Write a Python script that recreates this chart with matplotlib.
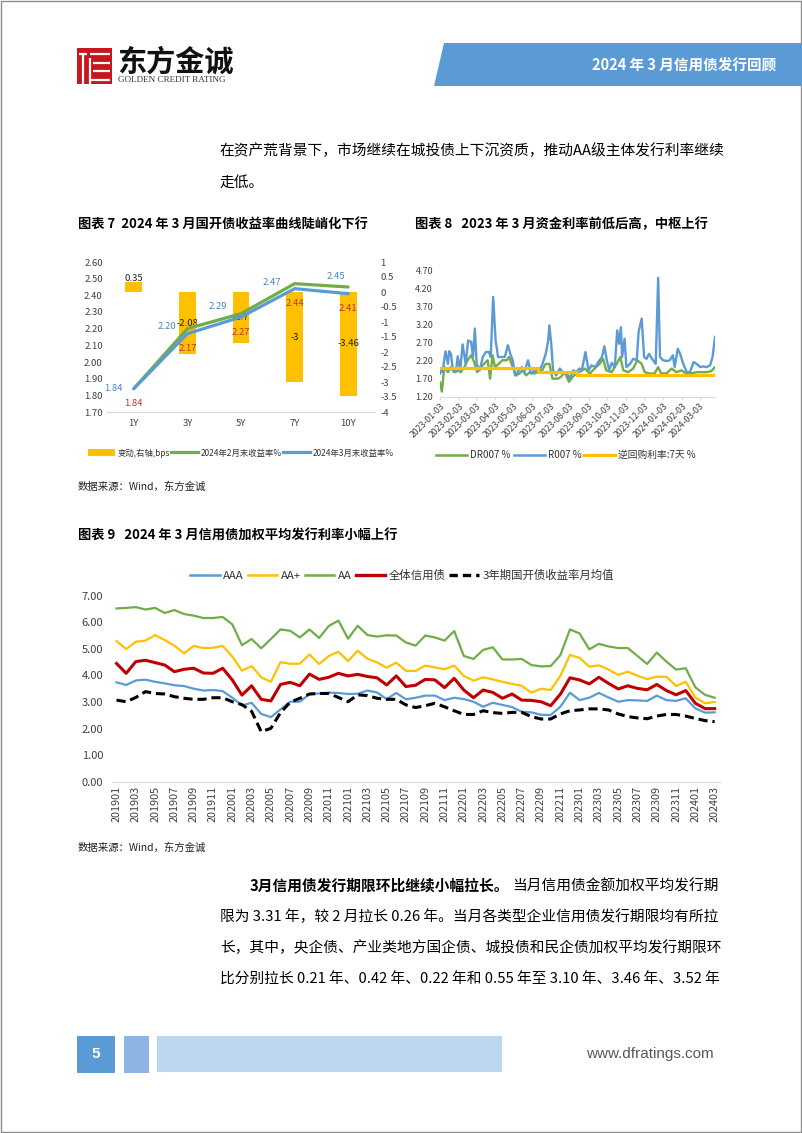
import matplotlib
matplotlib.use('Agg')
import matplotlib.pyplot as plt
from matplotlib.patches import Rectangle, Polygon, Patch
from matplotlib.lines import Line2D
from matplotlib.ticker import FuncFormatter
import numpy as np
import pandas as pd

CJK = ['Noto Sans CJK SC', 'DejaVu Sans']
plt.rcParams['font.family'] = CJK
plt.rcParams['axes.unicode_minus'] = False

# ---------------- data: chart 7 ----------------
tenors = ['1Y', '3Y', '5Y', '7Y', '10Y']
feb_yield = [1.84, 2.20, 2.29, 2.47, 2.45]
mar_yield = [1.84, 2.17, 2.27, 2.44, 2.41]
change_bp = [0.35, -2.08, -1.7, -3, -3.46]

# ---------------- data: chart 8 ----------------
r_dates = ['2023-01-03','2023-01-05','2023-01-07','2023-01-12','2023-01-16','2023-01-18','2023-01-21','2023-01-24','2023-01-29',
           '2023-02-01','2023-02-05','2023-02-09','2023-02-14','2023-02-18','2023-02-23','2023-02-26',
           '2023-03-01','2023-03-04','2023-03-09','2023-03-14','2023-03-19','2023-03-24','2023-03-27','2023-03-31',
           '2023-04-04','2023-04-08','2023-04-13','2023-04-19','2023-04-24','2023-04-28',
           '2023-05-02','2023-05-06','2023-05-12','2023-05-17','2023-05-21','2023-05-27',
           '2023-06-01','2023-06-07','2023-06-12','2023-06-19','2023-06-25','2023-06-29',
           '2023-07-01','2023-07-04','2023-07-07','2023-07-12','2023-07-18','2023-07-23','2023-07-29',
           '2023-08-03','2023-08-09','2023-08-14','2023-08-19','2023-08-23','2023-08-29',
           '2023-09-03','2023-09-08','2023-09-14','2023-09-19','2023-09-25','2023-09-29',
           '2023-10-03','2023-10-07','2023-10-11','2023-10-16','2023-10-20','2023-10-23','2023-10-26','2023-10-28',
           '2023-11-01','2023-11-04','2023-11-10','2023-11-15','2023-11-21','2023-11-24','2023-11-29',
           '2023-12-03','2023-12-07','2023-12-11','2023-12-16','2023-12-22','2023-12-26','2023-12-29',
           '2024-01-03','2024-01-09','2024-01-14','2024-01-19','2024-01-22','2024-01-27','2024-01-31',
           '2024-02-05','2024-02-11','2024-02-16','2024-02-22','2024-02-27',
           '2024-03-04','2024-03-09','2024-03-14','2024-03-20','2024-03-24','2024-03-28']
r007 = [1.85,1.94,1.89,2.47,2.12,2.47,2.40,1.94,1.89,
        2.33,1.94,2.66,2.12,2.77,2.73,2.31,
        3.10,2.12,1.94,2.31,2.45,2.45,2.31,3.98,
        2.77,2.31,2.31,2.31,2.64,2.40,
        2.22,1.80,1.94,2.03,1.89,2.22,
        1.85,1.94,1.89,2.08,2.40,2.77,
        3.19,2.68,1.94,1.80,1.99,1.89,1.89,
        1.71,1.94,1.89,1.99,1.94,2.45,
        1.94,2.08,2.03,2.17,2.31,2.61,
        2.22,1.94,2.15,2.03,3.05,2.68,3.14,2.31,
        2.82,2.03,2.12,2.26,2.22,3.01,3.38,
        2.31,2.26,2.40,2.26,2.12,4.51,2.31,
        2.22,2.20,2.22,2.36,2.03,2.54,2.40,
        2.12,1.89,1.89,2.17,2.12,
        2.03,2.05,2.03,2.08,2.31,2.87]
dr_dates = ['2023-01-03','2023-01-06','2023-01-10','2023-01-16','2023-01-21','2023-01-26',
            '2023-02-01','2023-02-06','2023-02-12','2023-02-17','2023-02-23','2023-02-28',
            '2023-03-05','2023-03-11','2023-03-16','2023-03-22','2023-03-26','2023-03-30',
            '2023-04-03','2023-04-09','2023-04-15','2023-04-22','2023-04-26',
            '2023-05-02','2023-05-07','2023-05-13','2023-05-18','2023-05-24','2023-05-30',
            '2023-06-06','2023-06-12','2023-06-19','2023-06-25',
            '2023-07-01','2023-07-06','2023-07-15','2023-07-20','2023-07-26',
            '2023-08-02','2023-08-08','2023-08-14','2023-08-19','2023-08-28',
            '2023-09-05','2023-09-13','2023-09-21','2023-09-27',
            '2023-10-02','2023-10-11','2023-10-19','2023-10-25','2023-10-30',
            '2023-11-07','2023-11-15','2023-11-22','2023-11-29',
            '2023-12-04','2023-12-12','2023-12-20','2023-12-26','2023-12-31',
            '2024-01-09','2024-01-17','2024-01-25',
            '2024-02-02','2024-02-10','2024-02-19','2024-02-27',
            '2024-03-06','2024-03-14','2024-03-22','2024-03-28']
dr007 = [1.60,1.35,2.03,1.89,2.03,1.89,
         1.94,1.89,2.03,2.22,2.36,2.17,
         1.89,2.03,2.12,2.22,1.71,2.36,
         2.03,2.12,2.22,2.22,2.31,
         2.03,1.80,1.85,1.94,1.80,1.89,
         1.85,1.89,1.94,2.12,
         2.12,1.71,1.71,1.76,1.89,
         1.62,1.76,1.85,1.89,1.99,
         1.85,1.99,2.12,2.26,
         1.94,1.89,2.12,2.31,1.94,
         1.89,1.99,2.22,2.12,
         1.89,1.85,1.85,2.03,1.85,
         1.86,1.99,1.89,
         1.94,1.85,1.86,1.89,
         1.89,1.89,1.92,2.03]
rr_dates = ['2023-01-03', '2023-06-13', '2023-08-15', '2024-03-28']
rr7 = [2.00, 1.90, 1.80, 1.80]
ch8_ticks = ['2023-01-03','2023-02-03','2023-03-03','2023-04-03','2023-05-03','2023-06-03','2023-07-03',
             '2023-08-03','2023-09-03','2023-10-03','2023-11-03','2023-12-03','2024-01-03','2024-02-03','2024-03-03']

# ---------------- data: chart 9 ----------------
months = ['201901','201902','201903','201904','201905','201906','201907','201908','201909','201910','201911','201912',
          '202001','202002','202003','202004','202005','202006','202007','202008','202009','202010','202011','202012',
          '202101','202102','202103','202104','202105','202106','202107','202108','202109','202110','202111','202112',
          '202201','202202','202203','202204','202205','202206','202207','202208','202209','202210','202211','202212',
          '202301','202302','202303','202304','202305','202306','202307','202308','202309','202310','202311','202312',
          '202401','202402','202403']
aaa = [3.74,3.64,3.81,3.84,3.76,3.70,3.63,3.60,3.50,3.43,3.45,3.41,
       3.16,2.87,2.97,2.55,2.43,2.72,3.01,3.01,3.30,3.32,3.35,3.34,
       3.30,3.31,3.43,3.36,3.11,3.34,3.10,3.16,3.24,3.24,3.07,3.16,
       3.11,3.01,2.82,2.97,2.89,2.81,2.63,2.61,2.52,2.51,2.82,3.35,
       3.07,3.16,3.34,3.17,3.01,3.07,3.06,3.04,3.24,3.07,3.04,3.14,
       2.76,2.60,2.61]
aa_plus = [5.29,4.99,5.27,5.31,5.52,5.33,5.12,4.83,5.11,5.03,5.04,5.11,
           4.71,4.18,4.35,3.93,3.76,4.50,4.44,4.44,4.79,4.43,4.73,4.89,
           4.54,4.93,4.63,4.49,4.29,4.48,4.17,4.17,4.37,4.30,4.23,4.37,
           3.98,3.80,3.93,3.85,3.76,3.68,3.61,3.35,3.50,3.45,3.98,4.77,
           4.66,4.33,4.38,4.22,4.02,4.14,3.99,3.86,3.95,3.95,3.60,3.76,
           3.17,2.95,3.00]
aa = [6.52,6.54,6.57,6.48,6.54,6.35,6.46,6.31,6.25,6.16,6.16,6.20,
      5.92,5.14,5.37,5.02,5.37,5.73,5.68,5.43,5.73,5.41,5.86,6.06,
      5.38,5.87,5.52,5.46,5.51,5.50,5.24,5.12,5.50,5.43,5.31,5.67,
      4.73,4.62,4.96,5.06,4.60,4.60,4.62,4.39,4.34,4.35,4.76,5.73,
      5.58,4.98,5.19,5.09,5.03,5.03,4.73,4.43,4.86,4.52,4.22,4.27,
      3.55,3.27,3.16]
all_credit = [4.45,4.08,4.52,4.57,4.48,4.39,4.14,4.23,4.27,4.09,4.08,4.27,
              3.83,3.26,3.61,3.10,3.04,3.66,3.74,3.61,4.05,3.85,3.93,4.08,
              3.98,4.04,3.96,3.91,3.64,3.98,3.58,3.63,3.85,3.83,3.54,3.89,
              3.45,3.16,3.45,3.36,3.14,3.30,3.07,3.06,3.01,2.86,3.29,3.91,
              3.83,3.68,3.93,3.70,3.49,3.61,3.51,3.46,3.66,3.43,3.27,3.43,
              2.95,2.75,2.75]
cdb3y = [3.07,3.01,3.17,3.39,3.32,3.30,3.20,3.14,3.10,3.10,3.16,3.16,
         3.01,2.90,2.65,1.88,2.01,2.60,2.99,3.14,3.30,3.32,3.32,3.17,
         3.01,3.27,3.24,3.14,3.10,3.10,2.89,2.79,2.86,2.95,2.82,2.67,
         2.53,2.53,2.67,2.60,2.57,2.61,2.61,2.45,2.36,2.36,2.55,2.67,
         2.70,2.74,2.74,2.70,2.55,2.45,2.40,2.37,2.47,2.53,2.53,2.47,
         2.38,2.30,2.26]

# ---------------- styles ----------------
BLUE = '#5B9BD5'
GOLD = '#FFC000'
GREEN = '#70AD47'
RED = '#C00000'
TICK = '#404040'
AXIS = '#D9D9D9'

W, H = 802, 1133
fig = plt.figure(figsize=(W / 100, H / 100), dpi=100)
fig.patch.set_facecolor('white')


def box(x0, y0, x1, y1):
    return [x0 / W, 1 - y1 / H, (x1 - x0) / W, (y1 - y0) / H]


def fpt(x, y):
    return (x / W, 1 - y / H)


bg = fig.add_axes([0, 0, 1, 1], zorder=-10)
bg.set_xlim(0, W)
bg.set_ylim(H, 0)
bg.axis('off')

# page frame
bg.add_patch(Rectangle((0.5, 0.5), W - 1.5, H - 1.5, fill=False, ec='#8c8c8c', lw=1.0))

# ---- header: logo ----
bg.add_patch(Rectangle((77, 48), 35, 36, color='#C8161D', lw=0))
wl = dict(color='white', lw=1.6, solid_capstyle='butt')
bg.plot([82.7, 82.7], [54, 84], **wl)
bg.plot([79, 86.5], [53.5, 53.5], **wl)
bg.plot([89.5, 89.5], [58, 84], **wl)
bg.plot([89.5, 110], [53.5, 53.5], **wl)
bg.plot([93, 110], [62.5, 62.5], **wl)
bg.plot([93, 110], [71, 71], **wl)
bg.plot([89.5, 110], [79.5, 79.5], **wl)
bg.text(117, 62, '东方金诚', fontsize=21, weight='bold', color='#111111', va='center', ha='left')
bg.text(118, 80.5, 'GOLDEN CREDIT RATING', fontsize=6.6, family=['Liberation Serif', 'DejaVu Serif'],
        color='#333333', va='center', ha='left')

# ---- header: banner ----
bg.add_patch(Polygon([(444, 43), (802, 43), (802, 86), (434, 86)], closed=True, color=BLUE, lw=0))
bg.text(776, 66, '2024 年 3 月信用债发行回顾', fontsize=10.5, weight='bold', color='white', va='center', ha='right')

# ---- body text top ----
BODY = 10.6
bg.text(220, 151, '在资产荒背景下，市场继续在城投债上下沉资质，推动AA级主体发行利率继续',
        fontsize=BODY, color='black', va='center', ha='left')
bg.text(220, 183, '走低。', fontsize=BODY, color='black', va='center', ha='left')

# ---- titles ----
bg.text(78, 224, '图表 7  2024 年 3 月国开债收益率曲线陡峭化下行', fontsize=9.5, weight='bold',
        va='center', ha='left', color='black')
bg.text(415, 224, '图表 8   2023 年 3 月资金利率前低后高，中枢上行', fontsize=9.5, weight='bold',
        va='center', ha='left', color='black')
bg.text(78, 536, '图表 9   2024 年 3 月信用债加权平均发行利率小幅上行', fontsize=9.5, weight='bold',
        va='center', ha='left', color='black')
bg.text(78, 487, '数据来源：Wind，东方金诚', fontsize=7.5, va='center', ha='left', color='#222222')
bg.text(78, 848, '数据来源：Wind，东方金诚', fontsize=7.5, va='center', ha='left', color='#222222')

# ================= chart 7 =================
axb = fig.add_axes(box(107, 262, 375, 412))
xc = np.arange(len(tenors))
axb.bar(xc, change_bp, width=0.31, color=GOLD, zorder=1)
axb.set_ylim(-4, 1)
axb.set_yticks(np.arange(-4, 1.01, 0.5))
axb.yaxis.set_major_formatter(FuncFormatter(lambda v, p: f'{v:g}'))
axb.set_xlim(-0.5, len(tenors) - 0.5)
axb.set_xticks(xc)
axb.set_xticklabels(tenors)
for s in ['top', 'left', 'right']:
    axb.spines[s].set_visible(False)
axb.spines['bottom'].set_color(AXIS)
for xi, v in zip(xc, change_bp):
    if v >= 0:
        axb.annotate(f'{v:g}', (xi, v), xytext=(0, 2), textcoords='offset points',
                     ha='center', va='center', fontsize=6.8, color='#222222')
    else:
        axb.annotate(f'{v:g}', (xi, v / 2), ha='center', va='center', fontsize=6.8, color='#222222')

axl = axb.twinx()
axb.yaxis.tick_right()
axb.tick_params(axis='both', length=0, labelsize=6.8, colors=TICK)
axb.tick_params(axis='y', pad=4, labelleft=False, labelright=True)
axb.tick_params(axis='x', pad=5)
axl.yaxis.tick_left()
axl.set_ylim(1.70, 2.60)
axl.set_yticks(np.arange(1.70, 2.601, 0.10))
axl.yaxis.set_major_formatter(FuncFormatter(lambda v, p: f'{v:.2f}'))
for s in axl.spines.values():
    s.set_visible(False)
axl.tick_params(axis='y', length=0, labelsize=6.8, colors=TICK, pad=3, labelleft=True, labelright=False)
axl.plot(xc, feb_yield, color=GREEN, lw=2.3, zorder=3, solid_capstyle='round')
axl.plot(xc, mar_yield, color=BLUE, lw=2.3, zorder=4, solid_capstyle='round')
feb_off = [(-15, 0), (-15, 1.5), (-16.5, 5), (-16, 1), (-8.5, 7.5)]
for xi, v, off in zip(xc, feb_yield, feb_off):
    axl.annotate(f'{v:.2f}', (xi, v), xytext=off, textcoords='offset points',
                 ha='center', va='center', fontsize=6.8, color='#4A86C5')
for xi, v in zip(xc, mar_yield):
    axl.annotate(f'{v:.2f}', (xi, v), xytext=(0, -11), textcoords='offset points',
                 ha='center', va='center', fontsize=6.8, color='#C9302C')

h7 = [Patch(facecolor=GOLD, edgecolor='none'),
      Line2D([], [], color=GREEN, lw=2.3),
      Line2D([], [], color=BLUE, lw=2.3)]
fig.legend(h7, ['变动,右轴,bps', '2024年2月末收益率%', '2024年3月末收益率%'],
           loc='center', bbox_to_anchor=fpt(241, 453), ncol=3, frameon=False, fontsize=6,
           handlelength=3.2, handleheight=0.9, columnspacing=0.2, handletextpad=0.3,
           labelcolor='#333333')

# ================= chart 8 =================
ax8 = fig.add_axes(box(440, 271, 715, 397))
ax8.plot(pd.to_datetime(dr_dates), dr007, color=GREEN, lw=1.7, zorder=2)
ax8.plot(pd.to_datetime(r_dates), r007, color=BLUE, lw=1.7, zorder=3)
ax8.plot(pd.to_datetime(rr_dates), rr7, color=GOLD, lw=2.3, drawstyle='steps-post', zorder=4)
ax8.set_ylim(1.2, 4.7)
ax8.set_yticks(np.arange(1.2, 4.701, 0.5))
ax8.yaxis.set_major_formatter(FuncFormatter(lambda v, p: f'{v:.2f}'))
ax8.set_xlim(pd.Timestamp(r_dates[0]), pd.Timestamp(r_dates[-1]))
ax8.set_xticks(pd.to_datetime(ch8_ticks))
ax8.set_xticklabels(ch8_ticks, rotation=45, ha='right', rotation_mode='anchor')
for s in ['top', 'left', 'right']:
    ax8.spines[s].set_visible(False)
ax8.spines['bottom'].set_color(AXIS)
ax8.tick_params(axis='y', length=0, labelsize=6.5, colors=TICK, pad=5)
ax8.tick_params(axis='x', length=2.5, color=AXIS, labelsize=6.3, labelcolor=TICK, pad=1)

h8 = [Line2D([], [], color=GREEN, lw=1.8), Line2D([], [], color=BLUE, lw=1.8), Line2D([], [], color=GOLD, lw=2.3)]
fig.legend(h8, ['DR007 %', 'R007 %', '逆回购利率:7天 %'], loc='center', bbox_to_anchor=fpt(566, 455),
           ncol=3, frameon=False, fontsize=7, handlelength=3.2, columnspacing=0.3, handletextpad=0.3,
           labelcolor='#333333')

# ================= chart 9 =================
ax9 = fig.add_axes(box(111.7, 595.7, 719.5, 781.7))
xm = np.arange(len(months))
ax9.plot(xm, aaa, color=BLUE, lw=1.6, zorder=2)
ax9.plot(xm, aa_plus, color=GOLD, lw=1.6, zorder=2)
ax9.plot(xm, aa, color=GREEN, lw=1.6, zorder=2)
ax9.plot(xm, all_credit, color=RED, lw=2.2, zorder=3)
ax9.plot(xm, cdb3y, color='black', lw=2.2, ls=(0, (3, 1.6)), zorder=4)
ax9.set_ylim(0, 7)
ax9.set_yticks(np.arange(0, 7.01, 1))
ax9.yaxis.set_major_formatter(FuncFormatter(lambda v, p: f'{v:.2f}'))
ax9.set_xlim(-0.5, len(months) - 0.5)
ax9.set_xticks(xm[::2])
ax9.set_xticklabels(months[::2], rotation=90)
for s in ['top', 'left', 'right']:
    ax9.spines[s].set_visible(False)
ax9.spines['bottom'].set_color(AXIS)
ax9.tick_params(axis='y', length=0, labelsize=8, colors=TICK, pad=6)
ax9.tick_params(axis='x', length=0, labelsize=7.8, colors=TICK, pad=3)

h9 = [Line2D([], [], color=BLUE, lw=1.8), Line2D([], [], color=GOLD, lw=1.8), Line2D([], [], color=GREEN, lw=1.8),
      Line2D([], [], color=RED, lw=2.4), Line2D([], [], color='black', lw=2.4, ls=(0, (2.5, 1.5)))]
fig.legend(h9, ['AAA', 'AA+', 'AA', '全体信用债', '3年期国开债收益率月均值'], loc='center',
           bbox_to_anchor=fpt(402, 575), ncol=5, frameon=False, fontsize=8.2, handlelength=2.6,
           columnspacing=0.35, handletextpad=0.3, labelcolor='#333333')

# ---- body text bottom ----
fig.canvas.draw()
rend = fig.canvas.get_renderer()
t_bold = bg.text(250, 886, '3月信用债发行期限环比继续小幅拉长。', fontsize=BODY, weight='bold',
                 color='black', va='center', ha='left')
bb = t_bold.get_window_extent(renderer=rend)
x_end = bb.x1 * W / (fig.get_figwidth() * fig.dpi)
bg.text(x_end + 3, 886, '当月信用债金额加权平均发行期', fontsize=BODY, color='black', va='center', ha='left')
bg.text(220, 917, '限为 3.31 年，较 2 月拉长 0.26 年。当月各类型企业信用债发行期限均有所拉',
        fontsize=BODY, color='black', va='center', ha='left')
bg.text(220, 948, '长，其中，央企债、产业类地方国企债、城投债和民企债加权平均发行期限环',
        fontsize=BODY, color='black', va='center', ha='left')
bg.text(220, 980, '比分别拉长 0.21 年、0.42 年、0.22 年和 0.55 年至 3.10 年、3.46 年、3.52 年',
        fontsize=BODY, color='black', va='center', ha='left')

# ---- footer ----
bg.add_patch(Rectangle((77, 1036), 38, 37, color='#5B9BD5', lw=0))
bg.add_patch(Rectangle((124, 1036), 25, 37, color='#8DB4E2', lw=0))
bg.add_patch(Rectangle((157, 1036), 345, 36, color='#BDD7EE', lw=0))
bg.text(96, 1054, '5', fontsize=11, weight='bold', color='white', va='center', ha='center',
        family=['Liberation Sans', 'DejaVu Sans'])
bg.text(714, 1054, 'www.dfratings.com', fontsize=11, color='#595959', va='center', ha='right',
        family=['Liberation Sans Narrow', 'Liberation Sans', 'DejaVu Sans'])

fig.savefig('out.png', dpi=100, facecolor='white')
